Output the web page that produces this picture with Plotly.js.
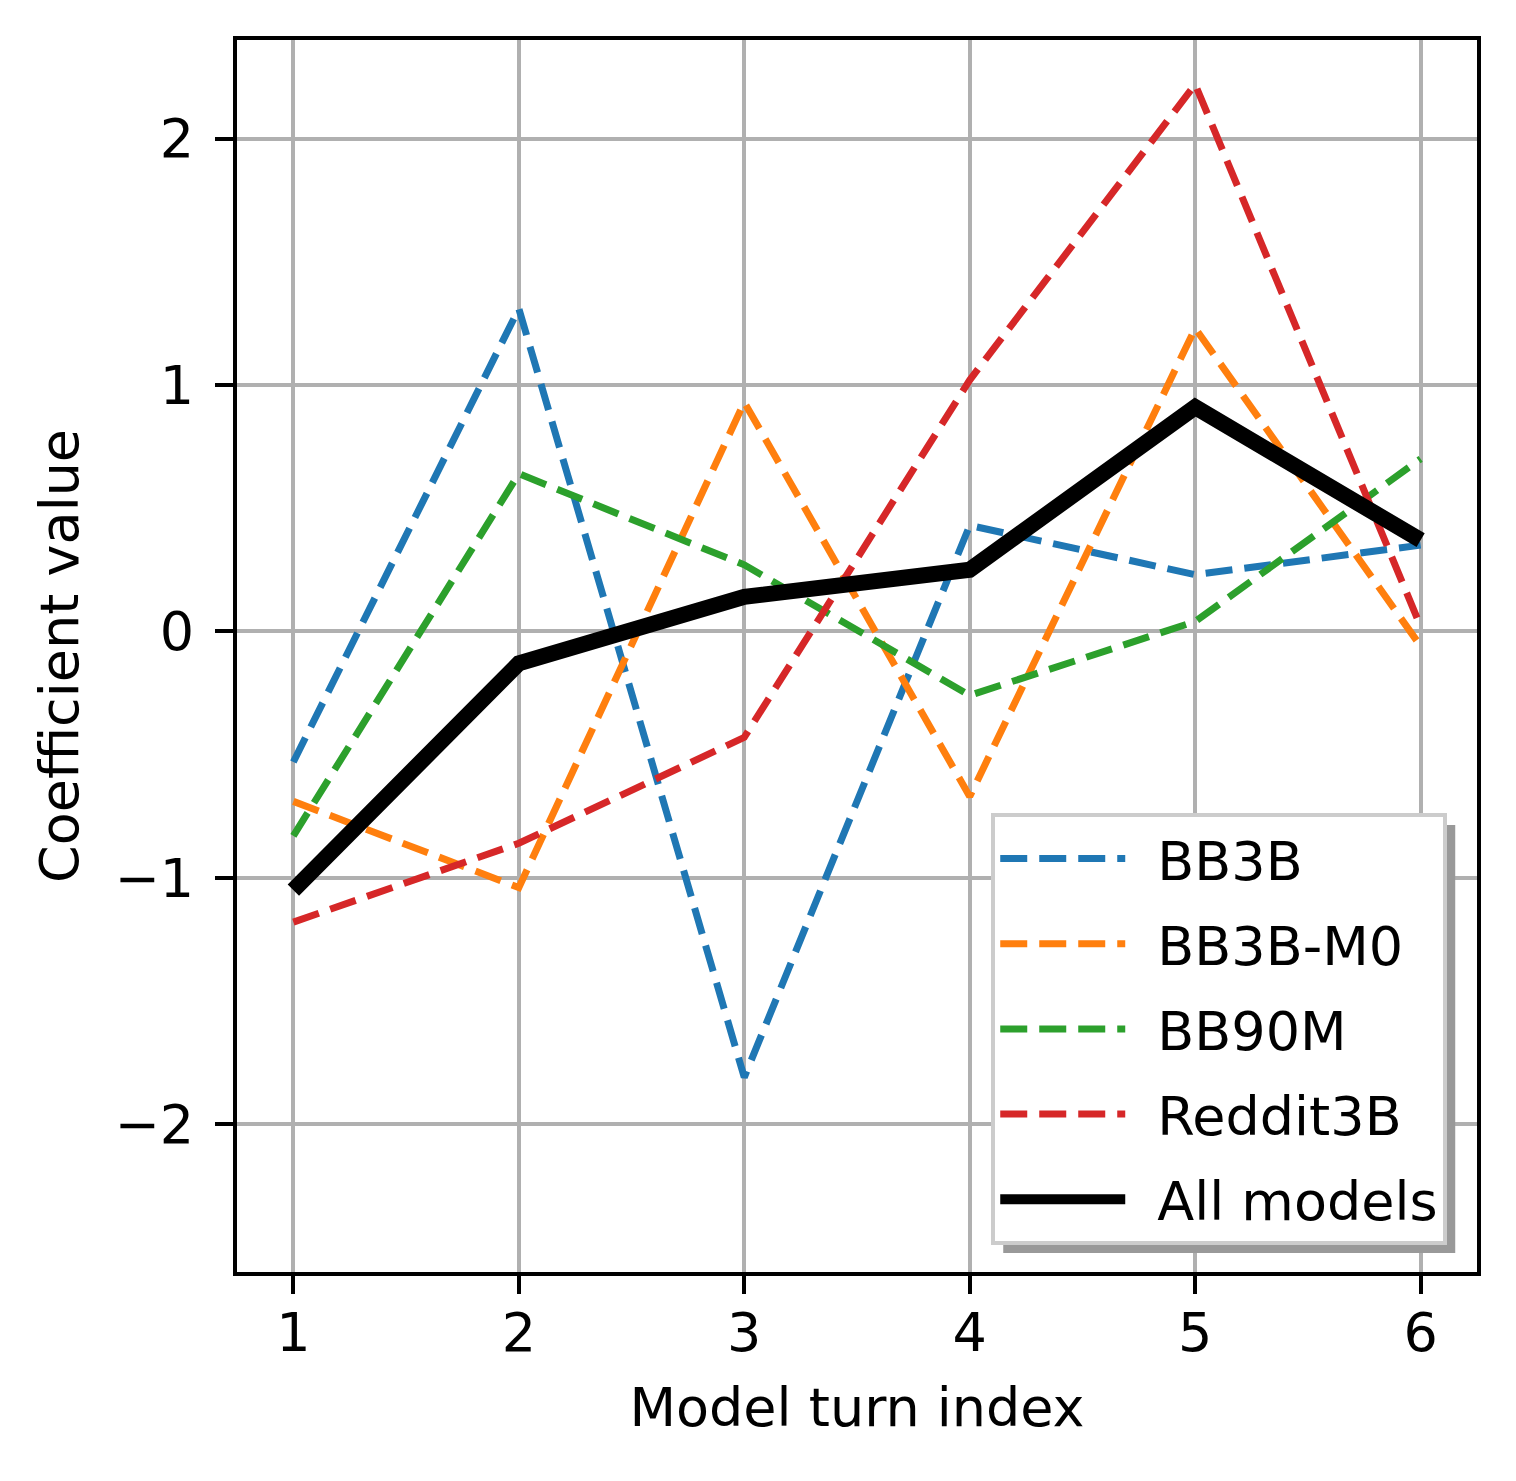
<!DOCTYPE html>
<html>
<head>
<meta charset="utf-8">
<script src="https://cdn.plot.ly/plotly-3.0.1.min.js"></script>
<style>body{margin:0;background:#fff}</style>
</head>
<body>
<div id="app" style="width:1516px;height:1481px"></div>
<script>
const turns = [1, 2, 3, 4, 5, 6]

const bb3b = [-0.53, 1.31, -1.81, 0.43, 0.23, 0.35]
const bb3bM0 = [-0.69, -1.04, 0.93, -0.67, 1.23, -0.06]
const bb90m = [-0.83, 0.64, 0.27, -0.26, 0.04, 0.70]
const reddit3b = [-1.18, -0.86, -0.43, 1.02, 2.22, 0.02]
const allModels = [-1.05, -0.13, 0.14, 0.25, 0.91, 0.37]

const names = ['BB3B', 'BB3B-M0', 'BB90M', 'Reddit3B', 'All models']
const colors = ['#1f77b4', '#ff7f0e', '#2ca02c', '#d62728', '#000000']
const series = [bb3b, bb3bM0, bb90m, reddit3b, allModels]

const font = 'DejaVu Sans, sans-serif'
const fs = 54

const traces = series.map((y, i) => {
  const thick = i === 4
  return {
    x: turns,
    y: y,
    mode: 'lines',
    // en space keeps the matplotlib-like gap between handle and label
    name: '\u2002' + names[i],
    legendgroup: 'g' + i,
    line: {
      color: colors[i],
      width: thick ? 16 : 7,
      dash: thick ? 'solid' : '27px,12px'
    }
  }
})

const axisCommon = {
  showgrid: true,
  gridcolor: '#b0b0b0',
  gridwidth: 4,
  zeroline: false,
  showline: true,
  linecolor: '#000',
  linewidth: 4,
  mirror: true,
  ticks: 'outside',
  ticklen: 18,
  tickwidth: 4,
  tickcolor: '#000',
  tickfont: { family: font, size: fs, color: '#000' }
}

const layout = {
  width: 1516,
  height: 1481,
  margin: { l: 237, r: 39, t: 40, b: 209 },
  paper_bgcolor: '#fff',
  plot_bgcolor: '#fff',
  font: { family: font, size: fs, color: '#000' },
  showlegend: true,
  xaxis: Object.assign({}, axisCommon, {
    range: [0.75, 6.25],
    tickvals: turns,
    ticklabelstandoff: -8,
    title: { text: 'Model turn index', font: { family: font, size: fs }, standoff: 26 }
  }),
  yaxis: Object.assign({}, axisCommon, {
    range: [-2.6, 2.4],
    tickvals: [-2, -1, 0, 1, 2],
    ticktext: ['\u22122', '\u22121', '0', '1', '2'],
    ticklabelstandoff: 10,
    title: { text: 'Coefficient value', font: { family: font, size: fs }, standoff: 20 }
  }),
  legend: {
    x: 0.976,
    y: 0.022,
    xanchor: 'right',
    yanchor: 'bottom',
    bgcolor: '#fff',
    bordercolor: '#cccccc',
    borderwidth: 4,
    traceorder: 'grouped',
    tracegroupgap: 12,
    itemwidth: 125,
    font: { family: font, size: fs, color: '#000' }
  }
}

Plotly.newPlot('app', traces, layout, { displayModeBar: false, staticPlot: true }).then(gd => {
  // shadow behind the legend box
  const bg = gd.querySelector('.legend .bg')
  if (!bg) return
  const r = bg.getBoundingClientRect()
  const app = gd.getBoundingClientRect()
  const size = gd._fullLayout._size
  const toX = px => (px - app.left - size.l) / size.w
  const toY = py => 1 - (py - app.top - size.t) / size.h
  const off = 10
  Plotly.relayout(gd, {
    shapes: [{
      type: 'rect',
      xref: 'paper', yref: 'paper',
      layer: 'above',
      x0: toX(r.left + off), x1: toX(r.right + off),
      y0: toY(r.bottom + off), y1: toY(r.top + off),
      fillcolor: '#999999',
      line: { width: 0 }
    }]
  })
})
</script>
</body>
</html>
